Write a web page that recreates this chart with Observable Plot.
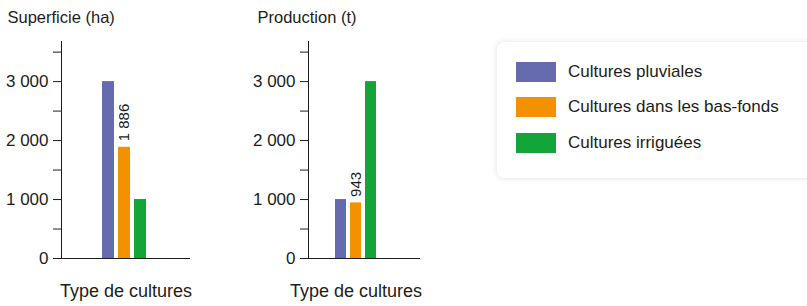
<!DOCTYPE html>
<html>
<head>
<meta charset="utf-8">
<script src="https://cdn.jsdelivr.net/npm/d3@7"></script>
<script src="https://cdn.jsdelivr.net/npm/@observablehq/plot@0.6"></script>
<style>
  html, body { margin: 0; padding: 0; background: #fff; }
  #wrap { position: relative; width: 807px; height: 306px; overflow: hidden; font-family: "Liberation Sans", Arial, sans-serif; color: #1d1d1b; }
  .panel { position: absolute; top: 0; }
  .panel svg { overflow: visible; }
  #legend { position: absolute; left: 497px; top: 42px; width: 340px; height: 136px; background: #fff;
            border-radius: 7px; box-shadow: 0 0 6px rgba(0,0,0,0.13); }
  .item { position: absolute; left: 19px; height: 20px; display: flex; align-items: center; font-size: 17px; }
  .sw { width: 40px; height: 20px; margin-right: 12px; }
</style>
</head>
<body>
<div id="wrap"></div>
<script>
// ---- data ----
const categories = ["Cultures pluviales", "Cultures dans les bas-fonds", "Cultures irriguées"];
const colors = ["#666bb0", "#f39200", "#14a538"];
const superficie = [3000, 1886, 1000];
const production = [1000, 943, 3000];
const labeledCategory = "Cultures dans les bas-fonds";
const majorTicks = [0, 1000, 2000, 3000];
const minorTicks = [500, 1500, 2500, 3500];
const panelTitles = ["Superficie (ha)", "Production (t)"];
const xLabel = "Type de cultures";

const fmt = d3.formatLocale({decimal: ",", thousands: "\u00a0", grouping: [3], currency: ["", " €"]}).format(",d");
const wrap = document.getElementById("wrap");

function panel(values, title, opts) {
  const data = categories.map((c, i) => ({type: c, value: values[i]}));
  const p = Plot.plot({
    width: 240,
    height: 306,
    marginLeft: opts.ml,
    marginRight: 240 - opts.axisEnd,
    marginTop: 41,
    marginBottom: 48,
    style: {fontFamily: '"Liberation Sans", Arial, sans-serif', fontSize: "17px", color: "#1d1d1b", background: "transparent"},
    x: {type: "band", domain: categories, range: opts.xr, paddingInner: 0.25, paddingOuter: 0, axis: null},
    y: {domain: [0, 3680]},
    color: {domain: categories, range: colors},
    marks: [
      Plot.barY(data, {x: "type", y: "value", fill: "type"}),
      Plot.axisY({ticks: majorTicks, tickFormat: fmt, tickSize: 8, tickPadding: 5, label: null, fontSize: 17, stroke: "#1d1d1b"}),
      Plot.axisY({ticks: minorTicks, tickFormat: () => "", tickSize: 8, label: null, stroke: "#1d1d1b"}),
      Plot.frame({anchor: "left", stroke: "#1d1d1b"}),
      Plot.ruleY([0], {stroke: "#1d1d1b"}),
      Plot.text(data, {filter: d => d.type === labeledCategory, x: "type", y: "value", text: d => fmt(d.value),
        rotate: -90, textAnchor: "start", lineAnchor: "middle", dy: -6, fontSize: 15, fill: "#1d1d1b"}),
      Plot.text([title], {frameAnchor: "top-left", textAnchor: "start", lineAnchor: "bottom",
        dx: opts.tdx, dy: -18.5, fontSize: 16.5, fill: "#1d1d1b"}),
      Plot.text([xLabel], {x: () => categories[1], frameAnchor: "bottom", lineAnchor: "bottom", dx: opts.ldx, dy: 38, fontSize: 18, fill: "#1d1d1b"})
    ]
  });
  const div = document.createElement("div");
  div.className = "panel";
  div.style.left = opts.left + "px";
  div.appendChild(p);
  wrap.appendChild(div);
}

panel(superficie, panelTitles[0], {left: 0, ml: 61, axisEnd: 190, xr: [102, 146], tdx: -54, ldx: 1.5});
panel(production, panelTitles[1], {left: 240, ml: 68, axisEnd: 180, xr: [94, 137], tdx: -51, ldx: 0});

// legend
const legend = document.createElement("div");
legend.id = "legend";
const tops = [20, 55, 91];
categories.forEach((c, i) => {
  const it = document.createElement("div");
  it.className = "item";
  it.style.top = tops[i] + "px";
  const sw = document.createElement("div");
  sw.className = "sw";
  sw.style.background = colors[i];
  const tx = document.createElement("span");
  tx.textContent = c;
  it.appendChild(sw);
  it.appendChild(tx);
  legend.appendChild(it);
});
wrap.appendChild(legend);
</script>
</body>
</html>
